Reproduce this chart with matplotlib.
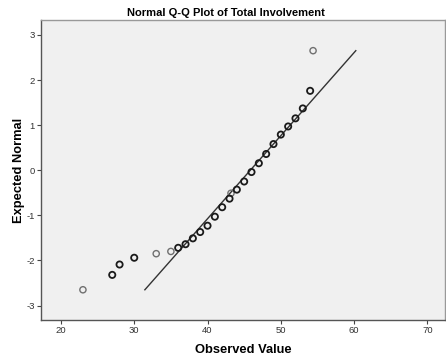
import matplotlib
matplotlib.use("Agg")
import matplotlib.pyplot as plt
import numpy as np

# Observed values (unique) and their expected normal scores
observed = [23.0, 27.0, 28.0, 30.0, 33.0, 35.0, 36.0, 37.0, 38.0, 39.0, 40.0,
            41.0, 42.0, 43.0, 43.2, 44.0, 45.0, 46.0, 47.0, 48.0, 49.0, 50.0,
            51.0, 52.0, 53.0, 54.0, 54.4]
expected = [-2.65, -2.32, -2.09, -1.94, -1.85, -1.80, -1.72, -1.64, -1.51, -1.37,
            -1.23, -1.03, -0.82, -0.63, -0.51, -0.43, -0.25, -0.04, 0.155, 0.36,
            0.58, 0.79, 0.97, 1.15, 1.37, 1.76, 2.65]
# Whether a value occurs more than once (overplotted markers look darker)
repeated = [False, True, True, True, False, False, True, True, True, True, True,
            True, True, True, False, True, True, True, True, True, True, True,
            True, True, True, True, False]

# Reference line: expected = (x - mean) / sd
line_mean = 45.84
line_sd = 5.43
line_z = [-2.65, 2.65]

x_ticks = [20, 30, 40, 50, 60, 70]
y_ticks = [-3, -2, -1, 0, 1, 2, 3]

plt.rcParams['font.family'] = ['Liberation Sans', 'DejaVu Sans']
plt.rcParams['axes.unicode_minus'] = False

fig = plt.figure(figsize=(4.46, 3.60), dpi=100)
ax = fig.add_axes([41 / 446, 40 / 360, 404 / 446, 300 / 360])
ax.set_facecolor('#f0f0f0')

z = np.array(line_z)
ax.plot(line_mean + line_sd * z, z, color='#333333', lw=1.0, zorder=2)

obs = np.array(observed)
exp_ = np.array(expected)
rep = np.array(repeated)
ax.scatter(obs[~rep], exp_[~rep], s=20, facecolors='none',
           edgecolors='#707070', linewidths=1.0, zorder=3)
ax.scatter(obs[rep], exp_[rep], s=20, facecolors='none',
           edgecolors='#1a1a1a', linewidths=1.3, zorder=3)

ax.set_xlim(17.28, 72.4)
ax.set_ylim(-3.32, 3.33)
ax.set_xticks(x_ticks)
ax.set_yticks(y_ticks)
ax.tick_params(axis='both', direction='out', length=3, width=0.8,
               colors='#444444', labelsize=6.8, labelcolor='#333333', pad=1.5)

for side in ('top', 'right'):
    ax.spines[side].set_color('#999999')
    ax.spines[side].set_linewidth(1.0)
for side in ('left', 'bottom'):
    ax.spines[side].set_color('#555555')
    ax.spines[side].set_linewidth(1.0)

ax.set_xlabel('Observed Value', fontsize=9.3, fontweight='bold', labelpad=6)
ax.set_ylabel('Expected Normal', fontsize=9.3, fontweight='bold', labelpad=1)
fig.text(226 / 446, 1 - 13 / 360, 'Normal Q-Q Plot of Total Involvement',
         ha='center', va='center', fontsize=8, fontweight='bold')

fig.savefig('out.png', dpi=100, facecolor='white')
